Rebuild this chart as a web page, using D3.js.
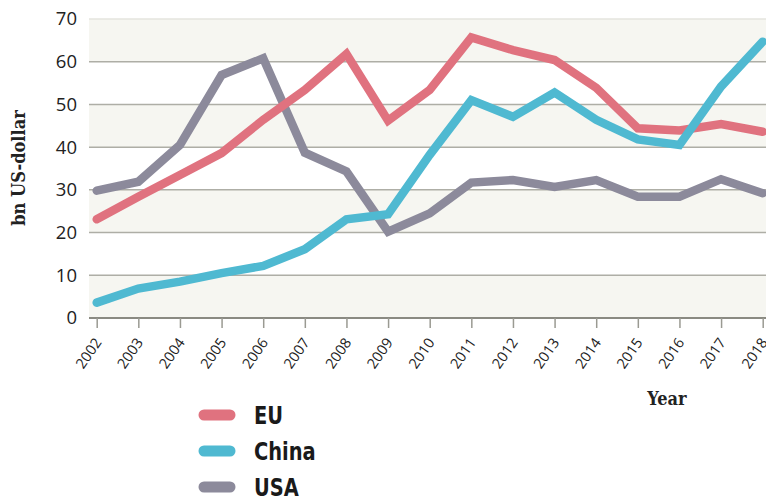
<!DOCTYPE html>
<html><head><meta charset="utf-8">
<script src="https://cdn.jsdelivr.net/npm/d3@7"></script>
<style>body{margin:0;background:#fff;} svg{display:block;}</style>
</head><body>
<svg id="c" width="766" height="499"></svg>
<script>
const years = [2002,2003,2004,2005,2006,2007,2008,2009,2010,2011,2012,2013,2014,2015,2016,2017,2018];
const eu    = [23.1,28.4,33.5,38.6,46.4,53.4,61.8,46.2,53.4,65.7,62.7,60.4,53.9,44.4,43.9,45.4,43.6];
const china = [3.6,6.9,8.5,10.5,12.2,16.1,23.1,24.3,38.2,51.0,47.1,52.8,46.4,41.8,40.5,54.2,64.7];
const usa   = [29.8,31.9,40.5,56.9,60.8,38.7,34.3,20.2,24.5,31.7,32.3,30.7,32.3,28.4,28.4,32.5,29.2];
const yTicks = [0,10,20,30,40,50,60,70];
const seriesNames = ["EU","China","USA"];
const seriesColors = ["#e0727f","#4fb9d1","#8c8a9b"];
const seriesData = [eu, china, usa];

(function(){
const svg = d3.select("#c");
const pl = 89, pr = 766, pt = 19, pb = 318;
const x = d3.scaleLinear().domain([2002,2018]).range([96.7,762.7]);
const y = d3.scaleLinear().domain([0,70]).range([pb, pt]);

// alternating bands
for (let i = 0; i < yTicks.length-1; i++) {
  const a = yTicks[i], b = yTicks[i+1];
  svg.append("rect").attr("x", pl).attr("width", pr-pl)
    .attr("y", y(b)).attr("height", y(a)-y(b))
    .attr("fill", i % 2 === 0 ? "#f6f6f1" : "#ffffff");
}
// gridlines
svg.append("g").selectAll("line").data(yTicks.slice(1)).join("line")
  .attr("x1", pl).attr("x2", pr).attr("y1", d=>y(d)).attr("y2", d=>y(d))
  .attr("stroke", d => d===70 ? "#e4e4de" : "#aeaea6").attr("stroke-width", 1.5);

// y axis labels
const yAxis = d3.axisLeft(y).tickValues(yTicks).tickSize(0).tickPadding(12);
const gy = svg.append("g").attr("transform", `translate(${pl},0)`).call(yAxis);
gy.select(".domain").remove();
gy.selectAll("text").attr("font-family","'Open Sans', sans-serif").attr("font-size", 18.5).attr("fill","#222");

// x axis
const xAxis = d3.axisBottom(x).tickValues(years).tickFormat(d3.format("d")).tickSize(10).tickPadding(4);
const gx = svg.append("g").attr("transform", `translate(0,${pb})`).call(xAxis);
gx.select(".domain").attr("d", `M${pl},0H${pr}`).attr("stroke","#8a8a82").attr("stroke-width",2);
gx.selectAll(".tick line").attr("stroke","#9a9a92").attr("stroke-width",1.5);
gx.selectAll(".tick text")
  .attr("font-family","'Open Sans', sans-serif").attr("font-size", 14.5).attr("fill","#222")
  .attr("text-anchor","end").attr("dy",0).attr("y",0).attr("x",0)
  .attr("transform","translate(5,24.5) rotate(-55)");

// lines (USA under, then EU, China on top)
const line = d3.line().x((d,i)=>x(years[i])).y(d=>y(d));
[2,0,1].forEach(k => {
  svg.append("path").datum(seriesData[k]).attr("d", line)
    .attr("fill","none").attr("stroke", seriesColors[k]).attr("stroke-width", 8.5)
    .attr("stroke-linejoin","miter").attr("stroke-linecap","round");
});
// titles
svg.append("text").attr("transform","translate(25,168) rotate(-90)")
  .attr("text-anchor","middle").attr("font-family","'DejaVu Serif Condensed','DejaVu Serif', serif")
  .attr("font-weight","bold").attr("font-size",18).attr("fill","#222").text("bn US-dollar");
svg.append("text").attr("x",667).attr("y",405).attr("text-anchor","middle")
  .attr("font-family","'DejaVu Serif Condensed','DejaVu Serif', serif")
  .attr("font-weight","bold").attr("font-size",18).attr("fill","#222").text("Year");

// legend
const lg = svg.append("g");
seriesNames.forEach((n,i) => {
  const cy = 415 + i*36;
  lg.append("line").attr("x1",204).attr("x2",230).attr("y1",cy).attr("y2",cy)
    .attr("stroke", seriesColors[i]).attr("stroke-width",11).attr("stroke-linecap","round");
  lg.append("text").attr("transform",`translate(254,${cy + 8.5}) scale(0.9,1)`)
    .attr("font-family","'DejaVu Sans Condensed', sans-serif")
    .attr("font-weight","bold").attr("font-size",24).attr("fill","#1a1a1a").text(n);
});
})();
</script>
</body></html>
